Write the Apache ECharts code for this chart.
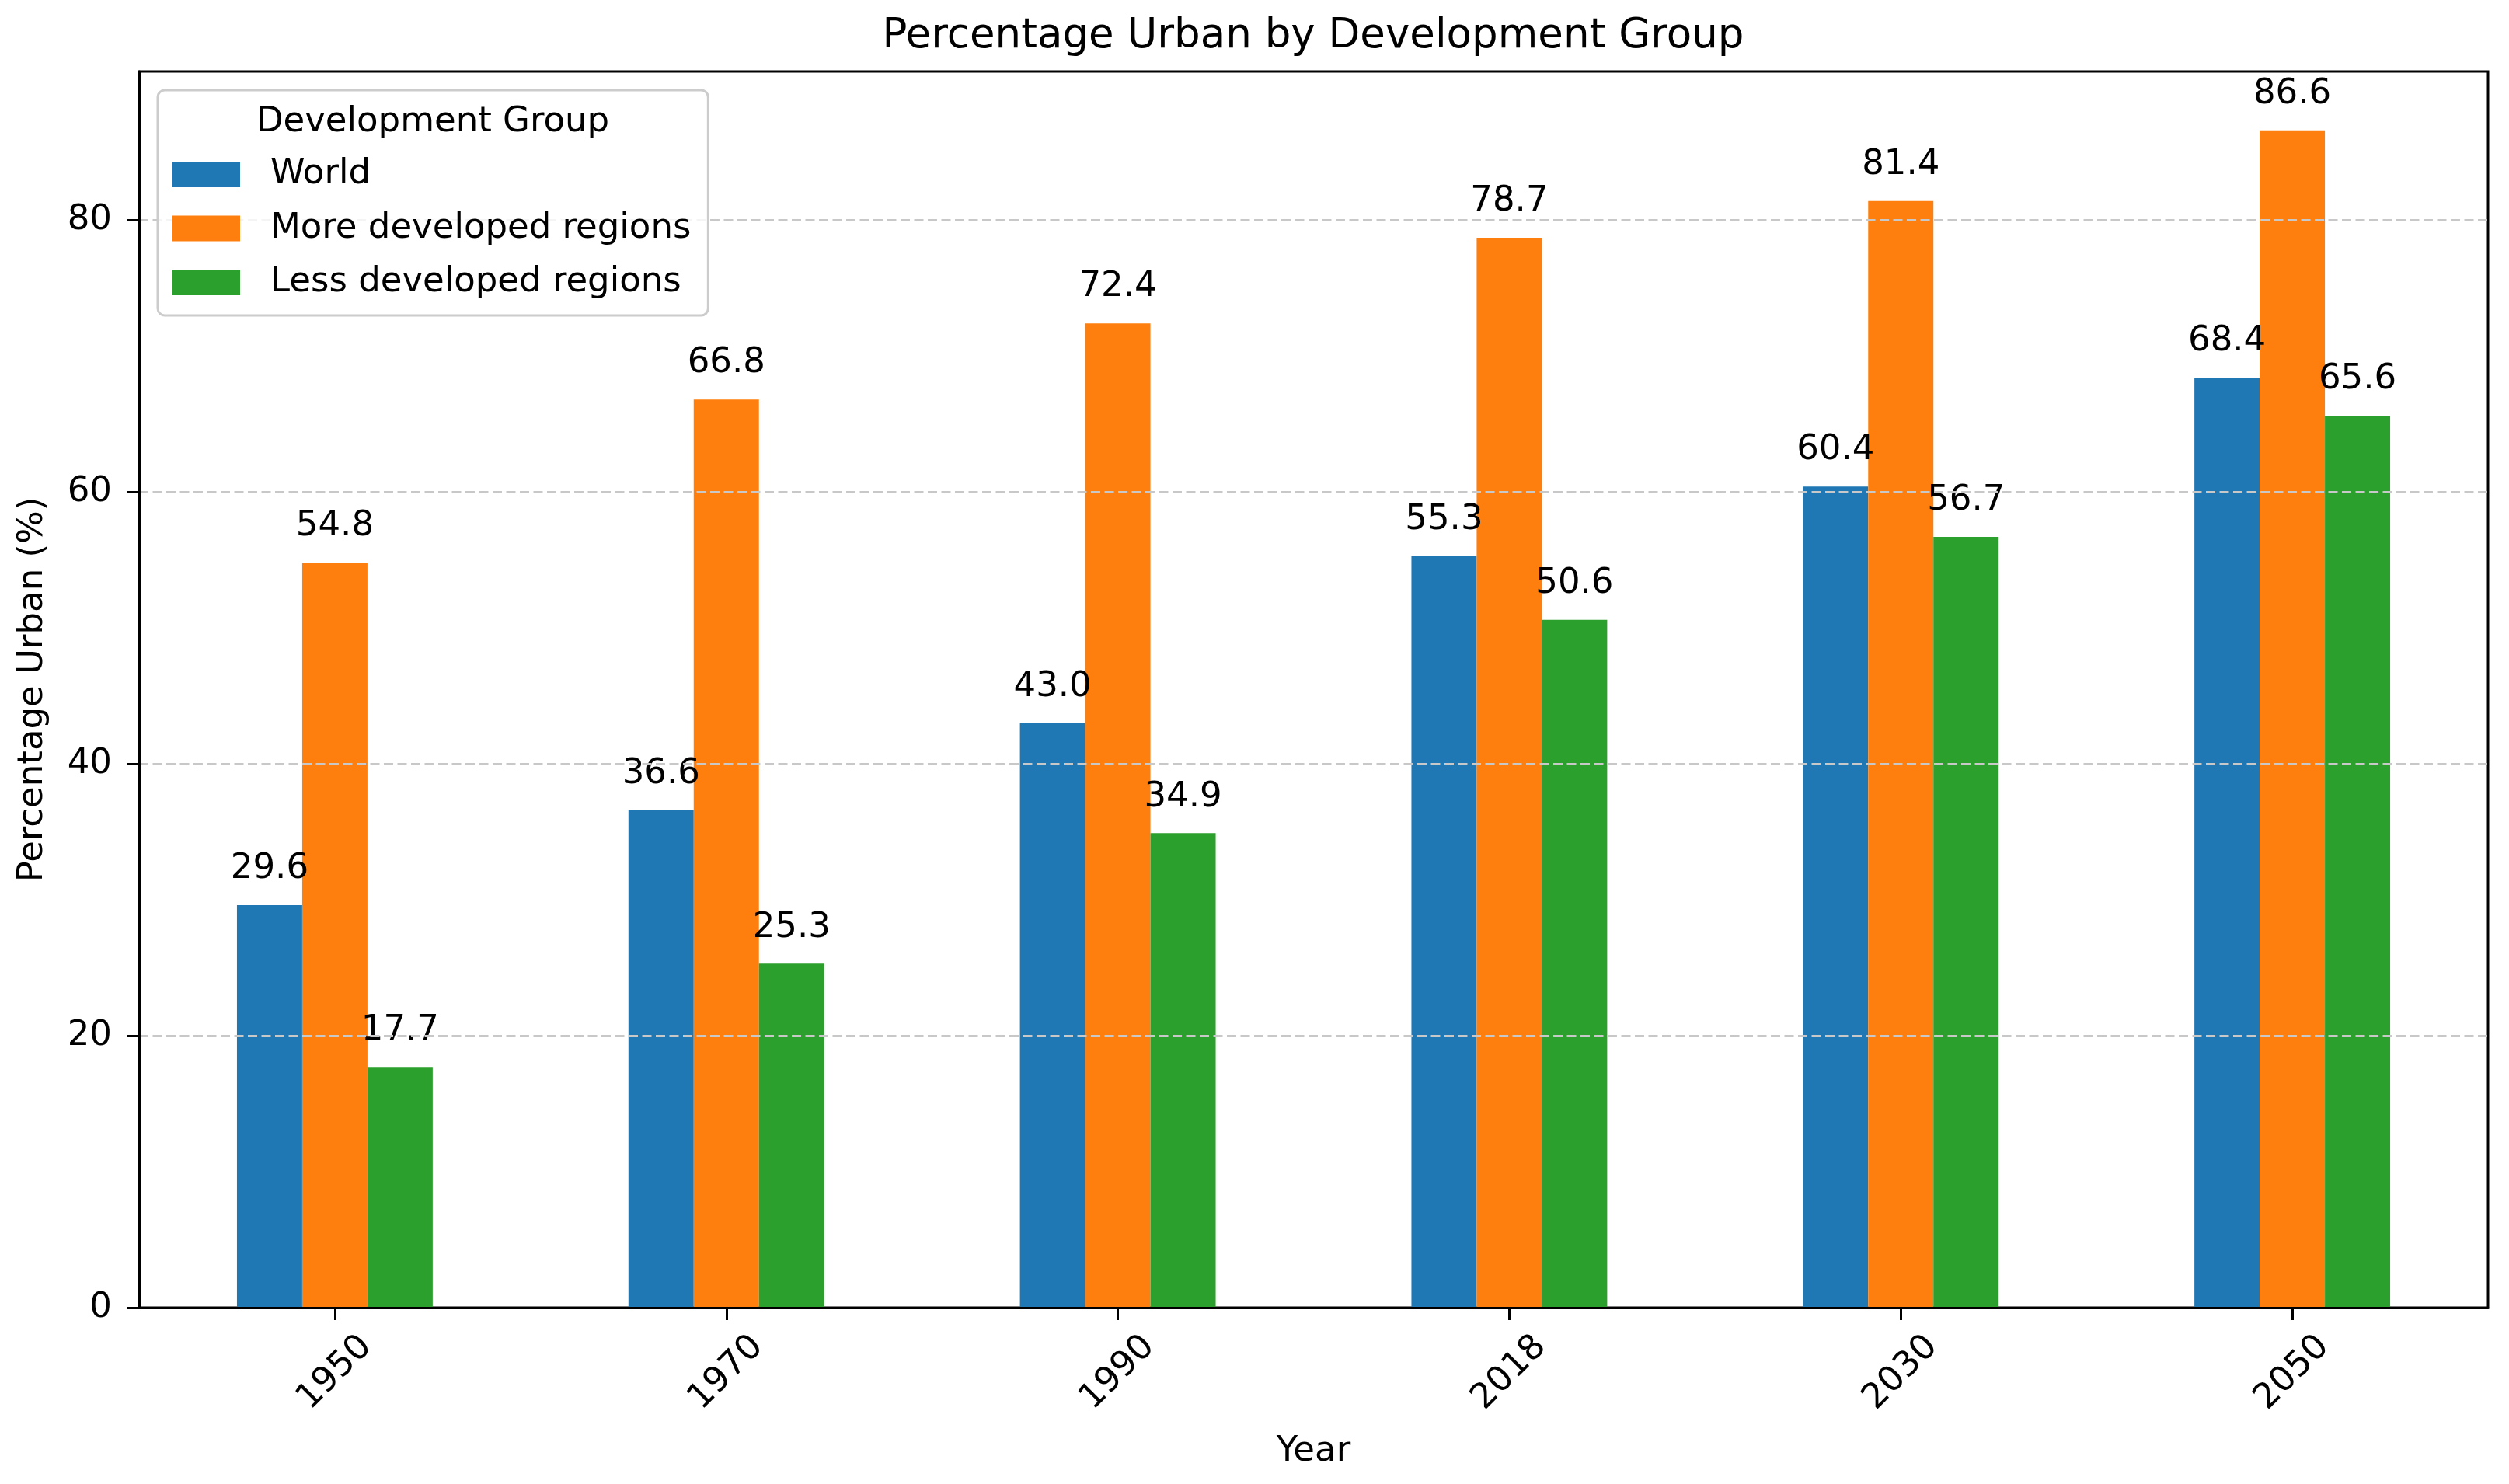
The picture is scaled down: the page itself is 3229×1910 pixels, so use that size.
<!DOCTYPE html>
<html><head><meta charset="utf-8">
<script src="https://cdn.jsdelivr.net/npm/echarts@6/dist/echarts.min.js"></script>
<style>html,body{margin:0;padding:0;background:#fff}#chart{width:3229px;height:1910px}</style>
</head><body><div id="chart"></div>
<script>
const years = ['1950', '1970', '1990', '2018', '2030', '2050'];
const seriesNames = ['World', 'More developed regions', 'Less developed regions'];
const world = [29.6, 36.6, 43.0, 55.3, 60.4, 68.4];
const moreDeveloped = [54.8, 66.8, 72.4, 78.7, 81.4, 86.6];
const lessDeveloped = [17.7, 25.3, 34.9, 50.6, 56.7, 65.6];
const yTicks = [0, 20, 40, 60, 80];
const colors = ['#1f77b4', '#ff7f0e', '#2ca02c'];
const titleText = 'Percentage Urban by Development Group';
const legendTitle = 'Development Group';
const xName = 'Year';
const yName = 'Percentage Urban (%)';

const F = 'DejaVu Sans';
const allVals = world.concat(moreDeveloped, lessDeveloped);
const yMax = Math.max.apply(null, allVals) * 1.05;
const seriesData = [world, moreDeveloped, lessDeveloped];

const chart = echarts.init(document.getElementById('chart'), null, {renderer: 'canvas'});
chart.setOption({
  backgroundColor: '#ffffff',
  animation: false,
  color: colors,
  textStyle: {fontFamily: F},
  title: [
    {text: titleText, left: 1690, top: 21, textAlign: 'center', padding: 0,
     textStyle: {fontFamily: F, fontSize: 53, fontWeight: 'normal', color: '#000'}},
    {text: legendTitle, left: 557, top: 135, textAlign: 'center', padding: 0, z: 10,
     textStyle: {fontFamily: F, fontSize: 45, fontWeight: 'normal', color: '#000'}}
  ],
  legend: {
    orient: 'vertical', left: 203, top: 116, padding: [86, 22, 20, 18],
    itemWidth: 88, itemHeight: 33, itemGap: 24.5, icon: 'rect', selectedMode: false,
    textStyle: {fontFamily: F, fontSize: 45, color: '#000', padding: [0, 0, 0, 34]},
    borderColor: '#cccccc', borderWidth: 3, borderRadius: 9,
    backgroundColor: 'rgba(255,255,255,0.8)',
    data: seriesNames
  },
  grid: {left: 179, right: 27, top: 92, bottom: 227, show: true,
         borderColor: '#000', borderWidth: 3, backgroundColor: '#fff', containLabel: false},
  xAxis: {
    type: 'category', data: years, boundaryGap: true, z: 3,
    name: xName, nameLocation: 'middle', nameGap: 185,
    nameTextStyle: {fontFamily: F, fontSize: 45, color: '#000', verticalAlign: 'middle'},
    axisLine: {show: true, lineStyle: {color: '#000', width: 3}},
    axisTick: {show: true, alignWithLabel: true, length: 16, lineStyle: {color: '#000', width: 3}},
    axisLabel: {show: true, interval: 0, rotate: 45, align: 'center', verticalAlign: 'middle',
                margin: 84, fontFamily: F, fontSize: 45, color: '#000'},
    splitLine: {show: false}
  },
  yAxis: {
    type: 'value', min: 0, max: yMax, interval: 20, z: 3,
    name: yName, nameLocation: 'middle', nameGap: 137, nameRotate: 90,
    nameTextStyle: {fontFamily: F, fontSize: 45, color: '#000', verticalAlign: 'middle'},
    axisLine: {show: true, lineStyle: {color: '#000', width: 3}},
    axisTick: {show: true, length: 16, customValues: yTicks, lineStyle: {color: '#000', width: 3}},
    axisLabel: {show: true, margin: 35, customValues: yTicks, fontFamily: F, fontSize: 45, color: '#000',
                formatter: function (v) { return yTicks.indexOf(v) >= 0 ? String(v) : ''; }},
    splitLine: {show: true, lineStyle: {color: '#c8c8c8', width: 3, type: [12, 5.5]}}
  },
  series: seriesNames.map(function (name, i) {
    return {
      name: name, type: 'bar', data: seriesData[i], barWidth: '16.667%', barGap: '0%', z: 2,
      itemStyle: {color: colors[i]},
      label: {show: true, position: 'top', distance: 24, fontFamily: F, fontSize: 45, color: '#000',
              formatter: function (p) { return p.value.toFixed(1); }}
    };
  })
});
</script>
</body></html>
